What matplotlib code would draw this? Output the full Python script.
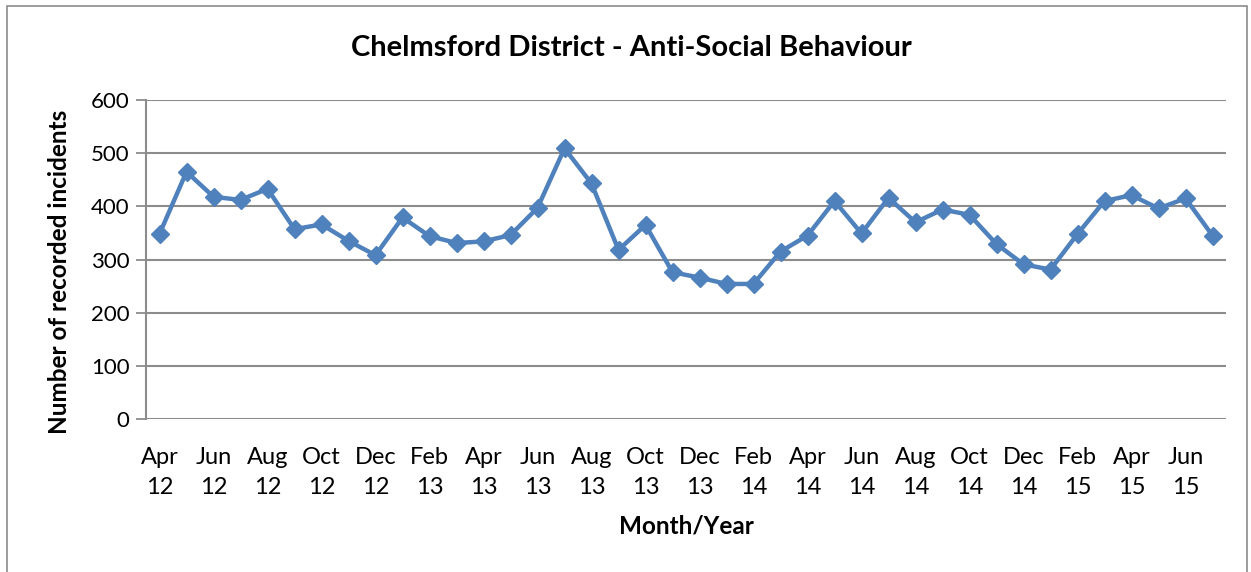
import matplotlib
matplotlib.use("Agg")
import matplotlib.pyplot as plt
from matplotlib.patches import Rectangle

months = ["Apr", "May", "Jun", "Jul", "Aug", "Sep", "Oct", "Nov", "Dec", "Jan", "Feb", "Mar"]
years = ["12", "13", "14", "15"]
incidents = [348, 465, 418, 412, 433, 357, 366, 335, 308, 379, 344, 331,
             334, 346, 397, 509, 443, 318, 365, 276, 266, 254, 254, 315,
             345, 410, 349, 416, 370, 394, 384, 329, 291, 281, 348, 410,
             421, 396, 415, 345]

labels = []
for i in range(len(incidents)):
    m = months[i % 12]
    y = years[(i + 3) // 12]
    labels.append(f"{m}\n{y}")

plt.rcParams['font.family'] = ['Lato', 'DejaVu Sans']

fig = plt.figure(figsize=(12.51, 5.72), dpi=100)
ax = fig.add_axes([146/1251, 1-419/572, (1226-146)/1251, (419-100)/572])

x = list(range(len(incidents)))
ax.plot(x, incidents, color="#4F81BD", linewidth=3.2, marker="D",
        markersize=9, markerfacecolor="#4F81BD", markeredgecolor="#4F81BD", zorder=3)

ax.set_xlim(-0.5, len(incidents) - 0.5)
ax.set_ylim(0, 600)
ax.set_yticks(range(0, 601, 100))
ax.yaxis.grid(True, color="#8C8C8C", linewidth=1.5)
ax.set_axisbelow(True)
ax.set_xticks(x[::2])
ax.set_xticklabels(labels[::2], fontsize=17, linespacing=1.55)
ax.tick_params(axis="x", length=0, pad=20)
ax.tick_params(axis="y", labelsize=16, length=7, width=1.3, color="#8C8C8C", pad=5)
for s in ["top", "right", "bottom"]:
    ax.spines[s].set_visible(False)
ax.spines["left"].set_color("#8C8C8C")
ax.spines["left"].set_linewidth(1.5)

ax.set_ylabel("Number of recorded incidents", fontsize=17.5, fontweight="bold", labelpad=12)
ax.yaxis.set_label_coords(-0.069, 0.46)
ax.set_xlabel("Month/Year", fontsize=17.5, fontweight="bold", labelpad=12)
fig.text(631/1251, 1-48/572, "Chelmsford District - Anti-Social Behaviour",
         fontsize=21, fontweight="bold", ha="center", va="center")

fig.patches.append(Rectangle((7/1251, -0.1), (1247-7)/1251, 1.1 - 6/572,
                             transform=fig.transFigure, fill=False,
                             edgecolor="#8C8C8C", linewidth=1.2))

fig.savefig("out.png", dpi=100)
